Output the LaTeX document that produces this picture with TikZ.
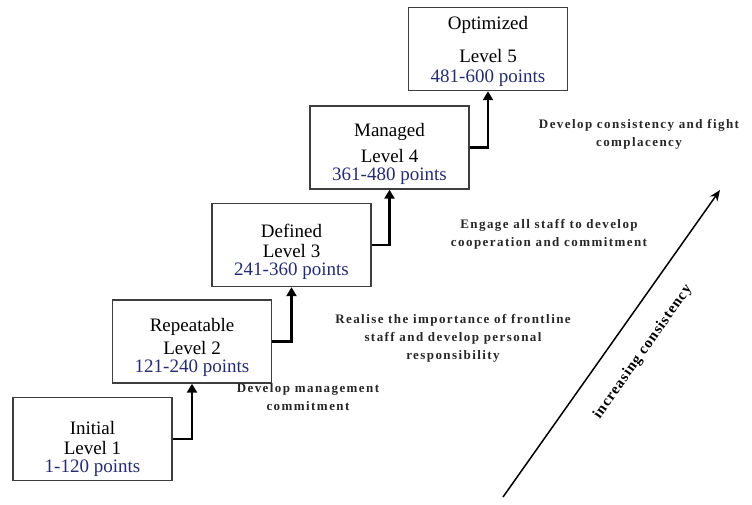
\documentclass[tikz,border=0pt]{standalone}
\usepackage{fontspec}
\setmainfont{Liberation Serif}
\usetikzlibrary{arrows.meta}

\definecolor{pointcol}{RGB}{38,44,112}
\definecolor{boxline}{RGB}{62,62,62}

\begin{document}
\begin{tikzpicture}[x=1pt,y=-1pt]
\tikzset{
	levelbox/.style={draw=boxline, line width=1.4pt,
		minimum width=159pt, minimum height=83pt, inner sep=0pt},
	leveltext/.style={align=center, inner sep=0pt,
		font=\fontsize{19}{18}\selectfont},
	stair/.style={line width=2.6pt, -{Triangle[width=10pt,length=9pt]}},
	advice/.style={align=center, inner sep=0pt, text=black!85,
		font=\fontsize{13}{18}\selectfont\bfseries\addfontfeatures{LetterSpace=11}},
}
\useasboundingbox (0,0) rectangle (752,505);

% the five levels
\node[levelbox] (Initial) at (92.5,439) {};
\node[levelbox] (Repeatable) at (192,341.5) {};
\node[levelbox] (Defined) at (291.5,245) {};
\node[levelbox] (Managed) at (389.5,147.5) {};
\node[levelbox] (Optimized) at (488,49) {};

\node[leveltext] (InitialTxt) at (92.5,449) {Initial\\[2pt]Level 1\\\textcolor{pointcol}{1-120 points}};
\node[leveltext] (RepeatableTxt) at (192,347.5) {Repeatable\\[5pt]Level 2\\\textcolor{pointcol}{121-240 points}};
\node[leveltext] (DefinedTxt) at (291.5,251.5) {Defined\\[2pt]Level 3\\\textcolor{pointcol}{241-360 points}};
\node[leveltext] (ManagedTxt) at (389.5,153.5) {Managed\\[8pt]Level 4\\\textcolor{pointcol}{361-480 points}};
\node[leveltext] (OptimizedTxt) at (488,51.5) {Optimized\\[15pt]Level 5\\[2pt]\textcolor{pointcol}{481-600 points}};

\draw[stair] (Initial.east) -| (Repeatable.south);
\draw[stair] (Repeatable.east) -| (Defined.south);
\draw[stair] (Defined.east) -| (Managed.south);
\draw[stair] (Managed.east) -| (Optimized.south);

% what to do at each step
\node[advice] (StepOne) at (308,397) {Develop management\\commitment};
\node[advice] (StepTwo) at (453,338) {Realise the importance of frontline\\staff and develop personal\\responsibility};
\node[advice] (StepThree) at (549,234) {Engage all staff to develop\\cooperation and commitment};
\node[advice] (StepFour) at (639,134) {Develop consistency and fight\\complacency};

\coordinate (TrendStart) at (503,497);
\coordinate (TrendEnd) at (720,190);
\draw[line width=1.5pt, -{Stealth[length=11pt,width=9pt]}] (TrendStart) -- (TrendEnd)
	node[pos=0.53, sloped, below=23pt, inner sep=0pt, font=\fontsize{15}{15}\selectfont\bfseries\addfontfeatures{LetterSpace=6}] (TrendLbl) {increasing consistency};
\end{tikzpicture}
\end{document}
